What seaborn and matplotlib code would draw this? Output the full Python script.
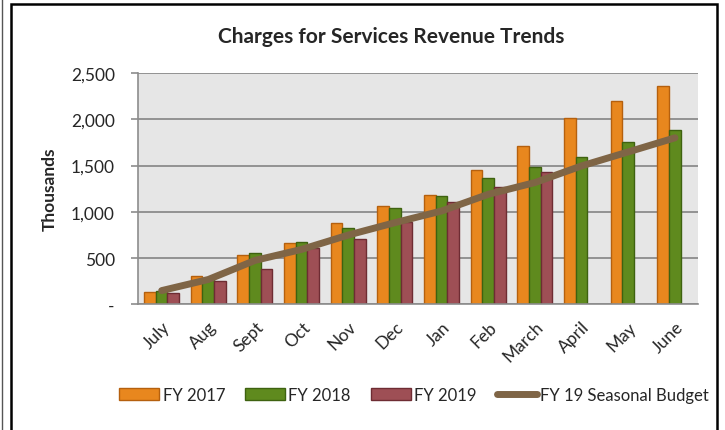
import numpy as np
import pandas as pd
import matplotlib
matplotlib.use("Agg")
import matplotlib.pyplot as plt
import seaborn as sns
from matplotlib.patches import Rectangle
from matplotlib.lines import Line2D

# chart data (thousands)
months = ['July', 'Aug', 'Sept', 'Oct', 'Nov', 'Dec', 'Jan', 'Feb', 'March', 'April', 'May', 'June']
fy2017 = [137, 310, 538, 660, 884, 1061, 1183, 1457, 1713, 2013, 2197, 2362]
fy2018 = [151, 280, 560, 671, 822, 1046, 1172, 1367, 1490, 1594, 1756, 1880]
fy2019 = [126, 252, 382, 615, 711, 895, 1111, 1266, 1436, None, None, None]
budget = [150, 270, 476, 595, 750, 884, 1010, 1190, 1317, 1497, 1648, 1800]
series = ['FY 2017', 'FY 2018', 'FY 2019']
yticks = [0, 500, 1000, 1500, 2000, 2500]
ytick_labels = ['-', '500', '1,000', '1,500', '2,000', '2,500']

colors = {'FY 2017': '#E8871E', 'FY 2018': '#5F8A1E', 'FY 2019': '#9E4F55'}
edges = {'FY 2017': '#B5600E', 'FY 2018': '#3E6210', 'FY 2019': '#6E2C33'}

rows = []
for name, vals in zip(series, [fy2017, fy2018, fy2019]):
    for m, v in zip(months, vals):
        if v is not None:
            rows.append({'Month': m, 'Series': name, 'Value': v})
df = pd.DataFrame(rows)

sns.set_style("white")
plt.rcParams['font.family'] = ['Lato', 'DejaVu Sans']

fig = plt.figure(figsize=(7.25, 4.31), dpi=100)
ax = fig.add_axes([0.1908, 0.2912, 0.7724, 0.5371])
ax.set_facecolor('#E6E6E6')

sns.barplot(data=df, x='Month', y='Value', hue='Series', order=months,
            hue_order=series, palette=colors, width=0.75, ax=ax,
            errorbar=None, legend=False, saturation=1)
for bars, name in zip(ax.containers, series):
    for b in bars:
        b.set_edgecolor(edges[name])
        b.set_linewidth(1.0)

ax.plot(np.arange(len(months)), budget, color='#7F6546', lw=5,
        solid_capstyle='round', zorder=5)

ax.set_xlim(-0.5, len(months) - 0.5)
ax.set_ylim(0, 2500)
ax.set_yticks(yticks)
ax.set_yticklabels(ytick_labels, fontsize=12.5)
ax.yaxis.grid(True, color='#8C8C8C', lw=1.3)
ax.set_axisbelow(True)
ax.set_xticks(np.arange(len(months) + 1) - 0.5, minor=True)
ax.set_xticks(np.arange(len(months)))
ax.set_xticklabels(months, rotation=45, ha='right', rotation_mode='anchor', fontsize=12.5)
ax.tick_params(axis='x', which='major', length=0, pad=10)
ax.tick_params(axis='x', which='minor', length=5, color='#8C8C8C', width=1.2)
ax.tick_params(axis='y', length=5, color='#8C8C8C', width=1.2, left=True, pad=12)
for s in ['top', 'right']:
    ax.spines[s].set_visible(False)
ax.spines['left'].set_color('#8C8C8C')
ax.spines['bottom'].set_color('#8C8C8C')
ax.spines['left'].set_linewidth(1.2)
ax.spines['bottom'].set_linewidth(1.2)
ax.set_xlabel('')
ax.set_ylabel('Thousands', fontsize=12.5, fontweight='bold', labelpad=9)

fig.text(0.539, 0.913, 'Charges for Services Revenue Trends', ha='center', va='center',
         fontsize=15, fontweight='bold')

handles = [Rectangle((0, 0), 1, 1, facecolor=colors[s], edgecolor=edges[s]) for s in series]
handles.append(Line2D([0], [0], color='#7F6546', lw=5, solid_capstyle='round'))
fig.legend(handles, series + ['FY 19 Seasonal Budget'], loc='center', ncol=4,
           bbox_to_anchor=(0.571, 0.081), frameon=False, fontsize=12,
           handlelength=2.4, handletextpad=0.2, columnspacing=1.2,
           borderpad=0, borderaxespad=0)

# outer chart frame
fig.patches.append(Rectangle((11 / 725, -0.05), 706 / 725, 1.05 - 5 / 431,
                             transform=fig.transFigure, fill=False,
                             edgecolor='black', lw=1.8))
fig.add_artist(Line2D([2 / 725, 2 / 725], [0, 1], transform=fig.transFigure,
                      color='#555555', lw=1))

fig.savefig('out.png', dpi=100)
